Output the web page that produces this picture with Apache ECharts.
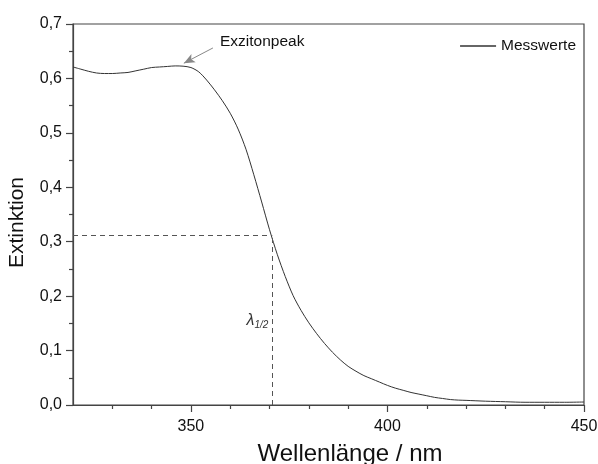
<!DOCTYPE html>
<html>
<head>
<meta charset="utf-8">
<script src="https://cdn.jsdelivr.net/npm/echarts@6/dist/echarts.min.js"></script>
<style>
  html, body { margin: 0; padding: 0; background: #fff; }
  #chart { width: 598px; height: 464px; }
</style>
</head>
<body>
<div id="chart"></div>
<script>
// Messwerte: Wellenlänge (nm) / Extinktion
const wavelength = [320, 322, 324, 326, 328, 330, 332, 334, 336, 338, 340, 342, 344, 346, 348, 350,
  352, 354, 356, 358, 360, 362, 364, 366, 368, 370, 372, 374, 376, 378, 380, 382, 384, 386,
  388, 390, 392, 394, 396, 398, 400, 402, 404, 406, 408, 410, 412, 414, 416, 418, 420, 425, 430,
  435, 440, 445, 450];
const extinction = [0.621, 0.617, 0.613, 0.610, 0.609, 0.609, 0.610, 0.611, 0.614, 0.617, 0.620,
  0.621, 0.622, 0.623, 0.6225, 0.620, 0.612, 0.597, 0.579, 0.559, 0.536, 0.507, 0.470, 0.423,
  0.373, 0.322, 0.276, 0.236, 0.201, 0.174, 0.151, 0.131, 0.113, 0.097, 0.083, 0.071,
  0.062, 0.054, 0.048, 0.042, 0.036, 0.031, 0.027, 0.023, 0.020, 0.017, 0.014, 0.012, 0.010,
  0.009, 0.0085, 0.007, 0.006, 0.005, 0.005, 0.005, 0.0055];

const xMajor = [350, 400, 450];
const xMinor = [330, 340, 360, 370, 380, 390, 410, 420, 430, 440];

// Halbwertsstelle und Annotation
const lambdaHalf = 370.7;
const halfExt = 0.312;
const peakArrowFrom = [355.6, 0.656];
const peakArrowTo = [348.2, 0.628];
const lambdaLabelY = 0.155;

const font = 'Liberation Sans, Arial, sans-serif';
const axisColor = '#444';

const chart = echarts.init(document.getElementById('chart'));

const points = wavelength.map((w, i) => [w, extinction[i]]);

chart.setOption({
  animation: false,
  backgroundColor: '#fff',
  textStyle: { fontFamily: font },
  grid: {
    left: 73, right: 14, top: 24, bottom: 59,
    outerBoundsMode: 'none',
    show: true, borderColor: axisColor, borderWidth: 1.2
  },
  legend: {
    top: 33, right: 17,
    itemWidth: 36, itemHeight: 1.4, itemGap: 6,
    textStyle: { fontSize: 15.5, color: '#111', fontFamily: font },
    data: [{ name: 'Messwerte', icon: 'rect', itemStyle: { color: '#333' } }]
  },
  xAxis: [
    {
      type: 'value', min: 320, max: 450,
      name: 'Wellenlänge / nm', nameLocation: 'middle', nameGap: 37,
      nameTextStyle: { fontSize: 24, color: '#111', fontFamily: font, padding: [0, 0, 0, 43] },
      axisLine: { show: true, lineStyle: { color: axisColor, width: 1.2 } },
      axisTick: { show: true, customValues: xMajor, length: 7, lineStyle: { color: axisColor, width: 1.2 } },
      axisLabel: { customValues: xMajor, fontSize: 16, color: '#111', margin: 14, fontFamily: font },
      splitLine: { show: false }
    },
    {
      type: 'value', min: 320, max: 450, position: 'bottom', gridIndex: 0,
      axisLine: { show: false },
      axisTick: { show: true, customValues: xMinor, length: 4, lineStyle: { color: axisColor, width: 1.2 } },
      axisLabel: { show: false },
      splitLine: { show: false }
    }
  ],
  yAxis: {
    type: 'value', min: 0, max: 0.7, interval: 0.1,
    name: 'Extinktion', nameLocation: 'middle', nameGap: 45,
    nameTextStyle: { fontSize: 21, color: '#111', fontFamily: font, padding: [0, 16, 0, 0] },
    axisLine: { show: true, lineStyle: { color: axisColor, width: 1.2 } },
    axisTick: { show: true, length: 7, lineStyle: { color: axisColor, width: 1.2 } },
    minorTick: { show: true, splitNumber: 2, length: 4, lineStyle: { color: axisColor, width: 1.2 } },
    axisLabel: {
      fontSize: 16, color: '#111', margin: 11, fontFamily: font,
      formatter: v => v.toFixed(1).replace('.', ',')
    },
    splitLine: { show: false }
  },
  series: [{
    name: 'Messwerte',
    type: 'line',
    xAxisIndex: 0,
    data: points,
    symbol: 'none',
    smooth: 0.3,
    lineStyle: { color: '#333', width: 1 },
    itemStyle: { color: '#333' },
    markLine: {
      silent: true,
      symbol: ['none', 'none'],
      label: { show: false },
      lineStyle: { color: '#555', type: [5, 4], width: 1 },
      data: [
        [{ coord: [320, halfExt] }, { coord: [lambdaHalf, halfExt] }],
        [{ coord: [lambdaHalf, 0] }, { coord: [lambdaHalf, halfExt] }],
        [
          { coord: peakArrowFrom, lineStyle: { color: '#888', type: 'solid', width: 1 }, symbol: 'none' },
          { coord: peakArrowTo, symbol: 'arrow', symbolSize: [7, 11], itemStyle: { color: '#111' } }
        ]
      ]
    },
    markPoint: {
      silent: true,
      symbol: 'circle', symbolSize: 0,
      data: [
        {
          coord: peakArrowFrom,
          label: {
            show: true, position: 'right', distance: 7, offset: [0, -6],
            formatter: 'Exzitonpeak', fontSize: 15.5, color: '#111', fontFamily: font
          }
        },
        {
          coord: [lambdaHalf, lambdaLabelY],
          label: {
            show: true, position: 'left', distance: 4,
            formatter: '{l|λ}{s|1/2}',
            rich: {
              l: { fontSize: 16, fontStyle: 'italic', color: '#333', fontFamily: font },
              s: { fontSize: 10, fontStyle: 'italic', color: '#333', fontFamily: font, padding: [10, 0, 0, 0] }
            }
          }
        }
      ]
    }
  }]
});
</script>
</body>
</html>
